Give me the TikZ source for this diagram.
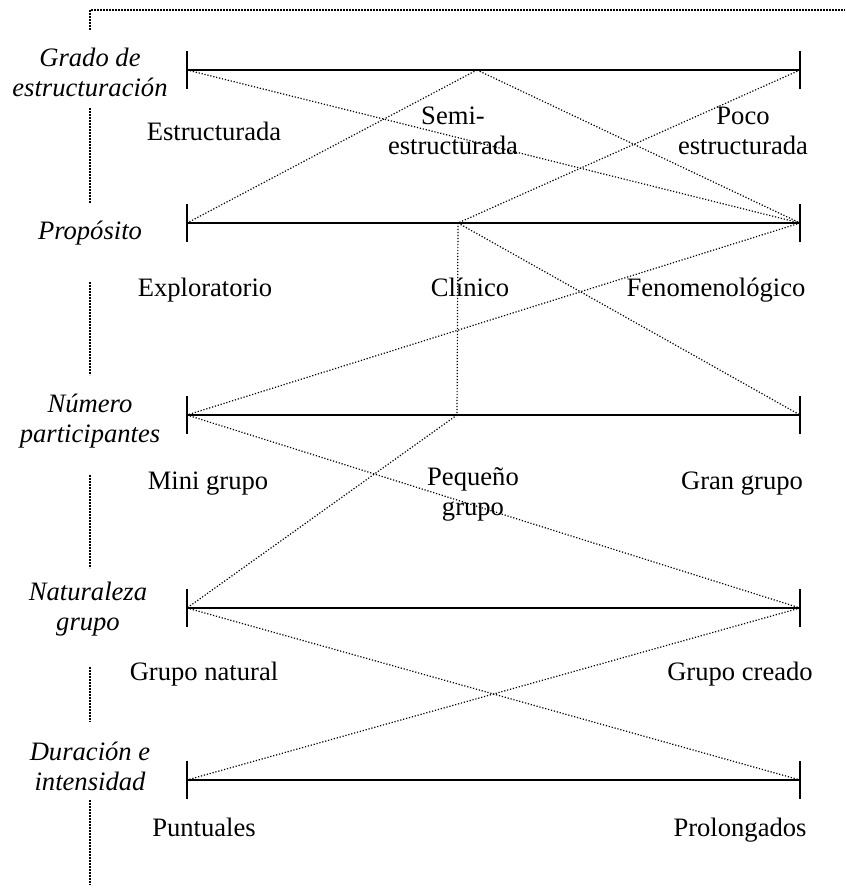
\documentclass[tikz,border=0pt]{standalone}
\usepackage{fontspec}
\setmainfont{Liberation Serif}

\begin{document}
\begin{tikzpicture}[x=0.5pt, y=-0.5pt,
    axis/.style={line width=1pt},
    link/.style={line width=0.6pt, dash pattern=on 0.6pt off 0.9pt},
    frame/.style={line width=1pt, dash pattern=on 0.8pt off 0.7pt},
    dim/.style={font=\fontsize{13.3}{15}\selectfont\itshape, align=center, inner sep=0pt},
    opt/.style={font=\fontsize{13.3}{15}\selectfont, align=center, inner sep=0pt}]
    \useasboundingbox (0,0) rectangle (845,892);

    % outer dotted frame
    \draw[frame] (90,30) -- (90,10) -- (845,10);
    \draw[frame] (90,108) -- (90,203);
    \draw[frame] (90,282) -- (90,375);
    \draw[frame] (90,475) -- (90,568);
    \draw[frame] (90,667) -- (90,722);
    \draw[frame] (90,800) -- (90,885);

    % points on the five scales
    \coordinate (a1) at (187,70);  \coordinate (b1) at (477,70);  \coordinate (c1) at (800,70);
    \coordinate (a2) at (187,223); \coordinate (b2) at (458,223); \coordinate (c2) at (800,223);
    \coordinate (a3) at (187,415); \coordinate (b3) at (457,415); \coordinate (c3) at (800,415);
    \coordinate (a4) at (187,608); \coordinate (c4) at (800,608);
    \coordinate (a5) at (187,780); \coordinate (c5) at (800,780);

    % scales with end ticks
    \foreach \i in {1,...,5} {
        \draw[axis] (a\i) -- (c\i);
        \draw[axis] (a\i) ++(0,-19) -- ++(0,38);
        \draw[axis] (c\i) ++(0,-19) -- ++(0,38);
    }

    % dotted links between scales
    \draw[link] (a1) -- (c2);
    \draw[link] (b1) -- (a2);
    \draw[link] (b1) -- (c2);
    \draw[link] (c1) -- (b2);
    \draw[link] (b2) -- (b3);
    \draw[link] (b2) -- (c3);
    \draw[link] (c2) -- (a3);
    \draw[link] (a3) -- (c4);
    \draw[link] (b3) -- (a4);
    \draw[link] (a4) -- (c5);
    \draw[link] (c4) -- (a5);

    % dimension names
    \node[dim] (grado) at (90,72) {Grado de\\estructuración};
    \node[dim, anchor=base] (prop) at (90,240) {Propósito};
    \node[dim] (num) at (90,421) {Número\\participantes};
    \node[dim] (nat) at (88,609) {Naturaleza\\grupo};
    \node[dim] (dur) at (90,766) {Duración e\\intensidad};

    % values on each scale
    \node[opt, anchor=base] (estr) at (214,141) {Estructurada};
    \node[opt] (semi) at (453,131) {Semi-\\estructurada};
    \node[opt] (poco) at (743,131) {Poco\\estructurada};
    \node[opt, anchor=base] (expl) at (205,297) {Exploratorio};
    \node[opt, anchor=base] (clin) at (470,297) {Clínico};
    \node[opt, anchor=base] (feno) at (716,297) {Fenomenológico};
    \node[opt, anchor=base] (mini) at (208,489) {Mini grupo};
    \node[opt] (peq) at (473,494) {Pequeño\\grupo};
    \node[opt, anchor=base] (gran) at (742,489) {Gran grupo};
    \node[opt, anchor=base] (gnat) at (204,680) {Grupo natural};
    \node[opt, anchor=base] (gcre) at (740,680) {Grupo creado};
    \node[opt, anchor=base] (punt) at (204,836) {Puntuales};
    \node[opt, anchor=base] (prol) at (740,836) {Prolongados};
\end{tikzpicture}
\end{document}
